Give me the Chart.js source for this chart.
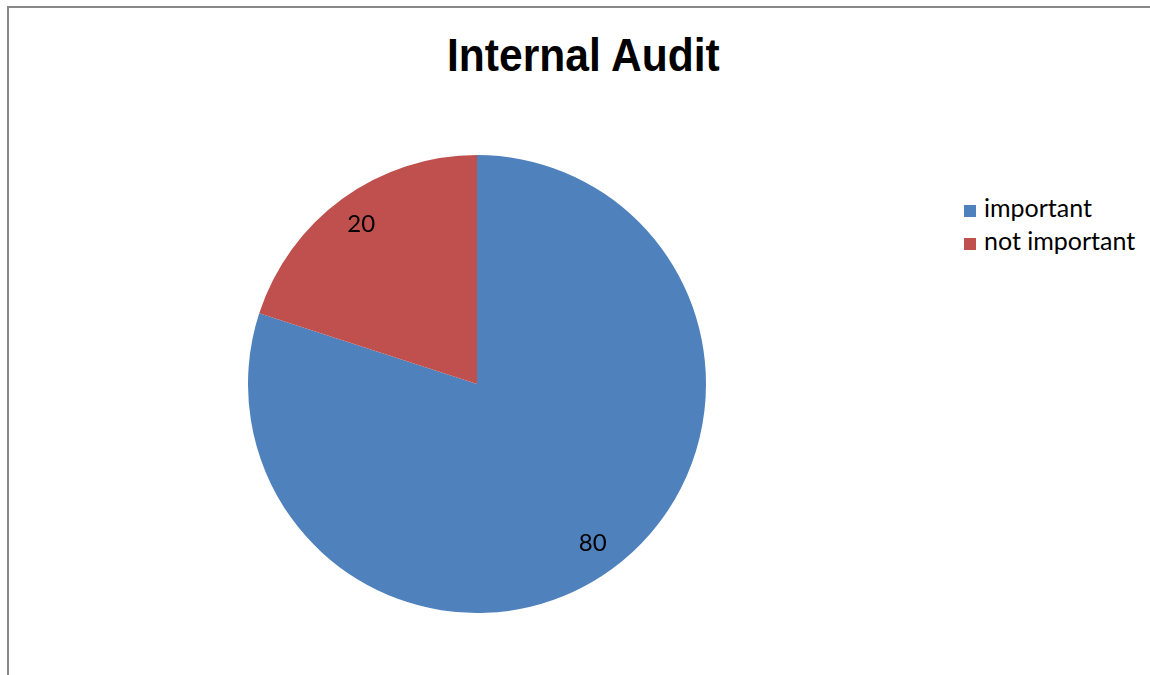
<!DOCTYPE html>
<html>
<head>
<meta charset="utf-8">
<script src="https://cdn.jsdelivr.net/npm/chart.js@4.4.0/dist/chart.umd.min.js"></script>
<style>
  html, body { margin: 0; padding: 0; background: #fff; }
  #page { position: relative; width: 1150px; height: 675px; overflow: hidden; }
  #frame { position: absolute; left: 7px; top: 6px; width: 1160px; height: 700px;
           border-left: 2px solid #888; border-top: 2px solid #888; box-sizing: border-box; }
  #title { position: absolute; left: 0; width: 1166px; top: 30px; text-align: center;
           font-family: "Liberation Sans Narrow", "Liberation Sans", Arial, sans-serif;
           font-weight: bold; font-size: 46px; line-height: 50px; color: #000; }
  #title span { display: inline-block; transform: scaleX(0.925); }
  #box { position: absolute; left: 248px; top: 155px; width: 458px; height: 458px; }
  #legend { position: absolute; left: 964px; top: 192px; font-family: Lato, "Open Sans", sans-serif;
            font-size: 25px; color: #000; }
  .row { height: 33px; line-height: 30px; white-space: nowrap; }
  .sw { display: inline-block; width: 12px; height: 12px; margin-right: 8px; vertical-align: 0px; }
</style>
</head>
<body>
<div id="page">
  <div id="frame"></div>
  <div id="title"><span>Internal Audit</span></div>
  <div id="box"><canvas id="grafico"></canvas></div>
  <div id="legend"></div>
</div>
<script>
const categorias = ["important", "not important"];
const valores = [80, 20];
const colores = ["#4F81BD", "#C0504D"];

// etiquetas de datos dentro de cada sector
const etiquetas = {
  id: "etiquetas",
  afterDatasetsDraw(chart) {
    const ctx = chart.ctx;
    const meta = chart.getDatasetMeta(0);
    ctx.save();
    ctx.font = "24px Lato, 'Open Sans', sans-serif";
    ctx.fillStyle = "#000";
    ctx.textAlign = "center";
    ctx.textBaseline = "middle";
    meta.data.forEach((arc, i) => {
      const p = arc.getProps(["x", "y", "startAngle", "endAngle", "outerRadius"], true);
      const mid = (p.startAngle + p.endAngle) / 2;
      const r = p.outerRadius * 0.86;
      ctx.fillText(String(valores[i]), p.x + Math.cos(mid) * r, p.y + Math.sin(mid) * r);
    });
    ctx.restore();
  },
};

const leyenda = document.getElementById("legend");
categorias.forEach((cat, i) => {
  const row = document.createElement("div");
  row.className = "row";
  row.innerHTML = '<span class="sw" style="background:' + colores[i] + '"></span>' + cat;
  leyenda.appendChild(row);
});

new Chart(document.getElementById("grafico"), {
  type: "pie",
  data: {
    labels: categorias,
    datasets: [{ data: valores, backgroundColor: colores, borderWidth: 0 }],
  },
  options: {
    responsive: true,
    maintainAspectRatio: false,
    animation: false,
    layout: { padding: 0 },
    plugins: { legend: { display: false }, tooltip: { enabled: false } },
  },
  plugins: [etiquetas],
});
</script>
</body>
</html>
